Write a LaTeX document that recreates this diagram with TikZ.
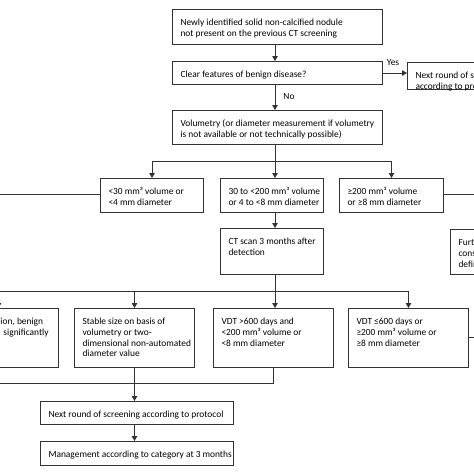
\documentclass[tikz,border=0pt]{standalone}
\usepackage{fontspec}
\setmainfont{Carlito}
\usetikzlibrary{arrows.meta}
\newcommand{\bxt}[3]{\parbox[b][#2pt][t]{#1pt}{\raggedright\leftskip=8pt\rule{0pt}{16pt}#3}}
\newcommand{\bx}[6]{\node[box] (#1) at (#2,#3) {\bxt{#4}{#5}{#6}};}
\tikzset{
  box/.style={draw=black!80, line width=1pt, inner sep=0pt, anchor=north west,
    font=\fontsize{9.4}{10.8}\selectfont, text=black},
  ln/.style={draw=black!80, line width=1pt},
  arr/.style={ln, -{Triangle[width=5.5pt,length=5pt]}},
  lbl/.style={font=\fontsize{9.4}{10.8}\selectfont, text=black, inner sep=0pt}
}
\begin{document}
\begin{tikzpicture}[x=1pt,y=-1pt]
\useasboundingbox (0,0) rectangle (474,474);
\fill[white] (0,0) rectangle (474,474);
\clip (0,0) rectangle (474,474);
\coordinate (sp) at (275,0);
% top column
\bx{b1}{172}{9}{210}{35}{Newly identified solid non-calcified nodule\\not present on the previous CT screening}
\bx{b2}{172}{61}{210}{23}{Clear features of benign disease?}
\bx{b3}{172}{110}{210}{34}{Volumetry (or diameter measurement if volumetry\\is not available or not technically possible)}
\bx{yb}{407}{62}{100}{27}{Next round of screening\\according to protocol}
\draw[arr] (b1.south -| sp) -- (b2.north -| sp);
\draw[arr] (b2.south -| sp) -- (b3.north -| sp);
\draw[arr] (b2.east) -- (b2.east -| yb.west);
\node[lbl] (yes) at (393,63) {Yes};
\node[lbl] (no) at (289,97) {No};
% row 4
\bx{r4a}{100}{178}{103}{34}{<30 mm³ volume or\\<4 mm diameter}
\bx{r4b}{220}{178}{103}{34}{30 to <200 mm³ volume\\or 4 to <8 mm diameter}
\bx{r4c}{339}{178}{104}{34}{≥200 mm³ volume\\or ≥8 mm diameter}
\coordinate (m1) at (275,161);
\draw[ln] (b3.south -| sp) -- (m1);
\draw[ln] (r4a.north |- m1) -- (r4c.north |- m1);
\draw[arr] (r4a.north |- m1) -- (r4a.north);
\draw[arr] (m1) -- (r4b.north -| m1);
\draw[arr] (r4c.north |- m1) -- (r4c.north);
\coordinate (lout) at (-20,194);
\coordinate (rout) at (494,194);
\draw[ln] (r4a.west |- lout) -- (lout);
\draw[ln] (r4c.east |- rout) -- (rout);
% CT scan
\bx{ct}{220}{228}{103}{46}{CT scan 3 months after\\detection}
\bx{furt}{450}{229}{100}{45}{Further\\consider\\definitive}
\draw[arr] (r4b.south -| sp) -- (ct.north -| sp);
% row 5
\node[box] (r5d) at (-62,308) {\parbox[b][59pt][t]{120pt}{\raggedright\leftskip=62pt\rule{0pt}{16pt}ion, benign\\\hspace*{3pt}significantly}};
\bx{r5e}{74}{308}{120}{59}{Stable size on basis of\\volumetry or two-\\dimensional non-automated\\diameter value}
\bx{r5f}{213}{308}{120}{59}{VDT >600 days and\\<200 mm³ volume or\\<8 mm diameter}
\bx{r5g}{348}{308}{120}{59}{VDT ≤600 days or\\≥200 mm³ volume or\\≥8 mm diameter}
\coordinate (m2) at (275,291);
\draw[ln] (ct.south -| sp) -- (m2);
\draw[ln] (r5d.north |- m2) -- (r5g.north |- m2);
\draw[arr] (r5d.north |- m2) -- (r5d.north);
\draw[arr] (r5e.north |- m2) -- (r5e.north);
\draw[arr] (m2) -- (r5f.north -| m2);
\draw[arr] (r5g.north |- m2) -- (r5g.north);
\coordinate (gout) at (494,337);
\draw[ln] (r5g.east |- gout) -- (gout);
% bottom
\coordinate (m3) at (0,383);
\draw[ln] (r5d.south) -- (r5d.south |- m3) -- (r5f.south |- m3) -- (r5f.south);
\bx{n1}{40}{401}{193}{23}{Next round of screening according to protocol}
\bx{n2}{40}{441}{193}{24}{Management according to category at 3 months}
\draw[arr] (r5e.south) -- (r5e.south |- n1.north);
\draw[arr] (r5e.south |- n1.south) -- (r5e.south |- n2.north);
\end{tikzpicture}
\end{document}
